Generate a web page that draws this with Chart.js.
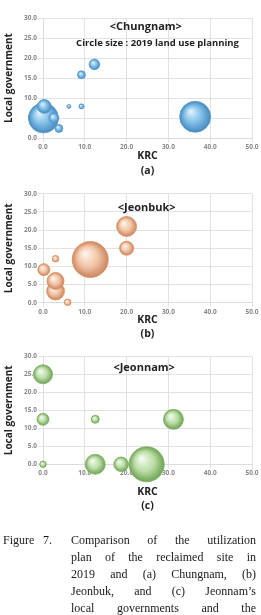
<!DOCTYPE html>
<html>
<head>
<meta charset="utf-8">
<script src="https://cdn.jsdelivr.net/npm/chart.js@4.4.0/dist/chart.umd.min.js"></script>
<style>
  html, body { margin: 0; padding: 0; background: #fff; }
  body { width: 261px; height: 615px; overflow: hidden; position: relative; }
  canvas { position: absolute; left: 0; }
  #caption { position: absolute; left: 0; top: 531.5px; width: 261px;
    font: 12px/17px "Liberation Serif", "Times New Roman", serif; color: #1a1a1a; }
  #caption .line { margin-left: 71px; width: 185px; text-align: justify; text-align-last: justify; white-space: nowrap; }
  #caption .lbl { position: absolute; top: 0; }
</style>
</head>
<body>
<canvas id="chungnam" width="275" height="181" style="top:0px"></canvas>
<canvas id="jeonbuk" width="275" height="167" style="top:175px"></canvas>
<canvas id="jeonnam" width="275" height="178" style="top:338px"></canvas>

<div id="caption">
  <span class="lbl" style="left:3px">Figure</span>
  <span class="lbl" style="left:43px">7.</span>
  <div class="line">Comparison of the utilization</div>
  <div class="line">plan of the reclaimed site in</div>
  <div class="line">2019 and (a) Chungnam, (b)</div>
  <div class="line">Jeonbuk, and (c) Jeonnam’s</div>
  <div class="line">local governments and the</div>
</div>

<script>
// axis ticks shared by the three panels
const xTicks = [0, 10, 20, 30, 40, 50];
const yTicks = [0, 5, 10, 15, 20, 25, 30];

// (a) Chungnam
const chungnamKrc   = [0.1, 36.4, 0.3, 2.6, 3.8, 12.3, 9.2, 9.2, 6.2];
const chungnamLocal = [5.0, 5.3, 7.9, 5.0, 2.4, 18.4, 15.8, 7.9, 7.9];
const chungnamSize  = [56, 60, 12, 6.3, 4, 7, 4, 1.6, 1];

// (b) Jeonbuk
const jeonbukKrc   = [11.3, 20.0, 3.0, 3.0, 20.0, 0.2, 3.0, 5.9];
const jeonbukLocal = [11.9, 21.0, 3.2, 6.0, 15.0, 9.1, 12.1, 0.1];
const jeonbukSize  = [81, 25, 20, 18, 12.3, 9, 2.7, 2.7];

// (c) Jeonnam
const jeonnamKrc   = [24.8, 12.5, 31.2, 0.0, 18.7, 0.0, 12.5, 0.0];
const jeonnamLocal = [0.0, 0.0, 12.5, 25.0, 0.0, 12.5, 12.5, 0.0];
const jeonnamSize  = [77, 25, 25, 22.6, 13.3, 9, 4, 2.7];

const W = 275, PLOT_LEFT = 43, PLOT_RIGHT = 252;

// draws text labels inside the plot, placed in data coordinates
const plotLabels = {
  id: 'plotLabels',
  afterDatasetsDraw(chart, args, opts) {
    const { ctx, scales } = chart;
    ctx.save();
    ctx.textAlign = 'center';
    ctx.textBaseline = 'middle';
    ctx.fillStyle = '#222';
    (opts.items || []).forEach(it => {
      ctx.font = it.font;
      ctx.fillText(it.text, scales.x.getPixelForValue(it.x), scales.y.getPixelForValue(it.y));
    });
    ctx.restore();
  }
};

// fake 3D look like the excel bubbles
function shade(c) {
  return (ctx) => {
    const chart = ctx.chart;
    const raw = ctx.raw;
    if (!raw || !chart.scales.x || !chart.scales.y) return c[1];
    const x = chart.scales.x.getPixelForValue(raw.x);
    const y = chart.scales.y.getPixelForValue(raw.y);
    const r = raw.r;
    if (!isFinite(x) || !isFinite(y) || !(r > 0)) return c[1];
    const g = chart.ctx.createRadialGradient(x - r * 0.3, y - r * 0.35, r * 0.05, x, y, r);
    g.addColorStop(0, c[0]);
    g.addColorStop(0.55, c[1]);
    g.addColorStop(1, c[2]);
    return g;
  };
}

function makeChart(id, cfg) {
  const canvas = document.getElementById(id);
  const H = canvas.height;
  const padBottom = H - (cfg.plotBottom - cfg.top) - cfg.xHeight;
  const points = cfg.krc.map((v, i) => ({ x: v, y: cfg.local[i], r: 2 * Math.sqrt(cfg.size[i]) }));
  const tickFont = { family: 'Open Sans', size: 6.5, weight: 'bold' };
  const gridColor = '#dadada';

  return new Chart(canvas.getContext('2d'), {
    type: 'bubble',
    data: {
      datasets: [{
        data: points,
        backgroundColor: shade(cfg.colors),
        borderColor: cfg.border,
        borderWidth: 0.8,
        clip: false
      }]
    },
    options: {
      responsive: false,
      animation: false,
      devicePixelRatio: 1,
      layout: {
        padding: { top: cfg.plotTop - cfg.top, bottom: padBottom, left: 0, right: W - PLOT_RIGHT }
      },
      plugins: {
        legend: { display: false },
        tooltip: { enabled: false },
        plotLabels: { items: cfg.labels }
      },
      scales: {
        x: {
          type: 'linear', min: 0, max: 50,
          afterBuildTicks: s => { s.ticks = xTicks.map(v => ({ value: v })); },
          afterFit: s => { s.height = cfg.xHeight; },
          grid: { color: gridColor, lineWidth: 0.8, tickLength: 4 },
          border: { color: gridColor, width: 0.8 },
          ticks: { font: tickFont, color: '#888', padding: 1.2, maxRotation: 0,
                   callback: v => v.toFixed(1) },
          title: {
            display: true, text: ['KRC', cfg.sub], color: '#222',
            font: { family: 'Open Sans', size: 10.5, weight: 'bold', lineHeight: cfg.gap / 10.5 },
            padding: 0
          }
        },
        y: {
          type: 'linear', min: 0, max: 30,
          afterBuildTicks: s => { s.ticks = yTicks.map(v => ({ value: v })); },
          afterFit: s => { s.width = PLOT_LEFT; },
          grid: { color: gridColor, lineWidth: 0.8, tickLength: 5 },
          border: { color: gridColor, width: 0.8 },
          ticks: { font: tickFont, color: '#888', padding: 1,
                   callback: v => v.toFixed(1) },
          title: {
            display: true, text: 'Local government', color: '#222',
            font: { family: 'Open Sans', size: 10, weight: 'bold', lineHeight: 1.2 },
            padding: { top: 2.7, bottom: 0 }
          }
        }
      }
    },
    plugins: [plotLabels]
  });
}

const titleFont = 'bold 11px "Open Sans"';

makeChart('chungnam', {
  top: 0, plotTop: 18, plotBottom: 138, xHeight: 41.1, gap: 15.6, sub: '(a)',
  krc: chungnamKrc, local: chungnamLocal, size: chungnamSize,
  colors: ['#dcf0fb', '#7dbde6', '#4689bf'], border: '#5b9bcc',
  labels: [
    { text: '<Chungnam>', x: 24.6, y: 27.8, font: titleFont },
    { text: 'Circle size : 2019 land use planning', x: 27.4, y: 23.7, font: 'bold 9.5px "Open Sans"' }
  ]
});

makeChart('jeonbuk', {
  top: 175, plotTop: 181.7, plotBottom: 302.7, xHeight: 37.7, gap: 13.3, sub: '(b)',
  krc: jeonbukKrc, local: jeonbukLocal, size: jeonbukSize,
  colors: ['#fff4ec', '#f2c4a6', '#c98660'], border: '#e08f5c',
  labels: [
    { text: '<Jeonbuk>', x: 24.8, y: 26.1, font: titleFont }
  ]
});

makeChart('jeonnam', {
  top: 338, plotTop: 344.3, plotBottom: 464.3, xHeight: 48.4, gap: 13.5, sub: '(c)',
  krc: jeonnamKrc, local: jeonnamLocal, size: jeonnamSize,
  colors: ['#f3faee', '#badca5', '#6da353'], border: '#7fb266',
  labels: [
    { text: '<Jeonnam>', x: 24.2, y: 26.7, font: titleFont }
  ]
});
</script>
</body>
</html>
